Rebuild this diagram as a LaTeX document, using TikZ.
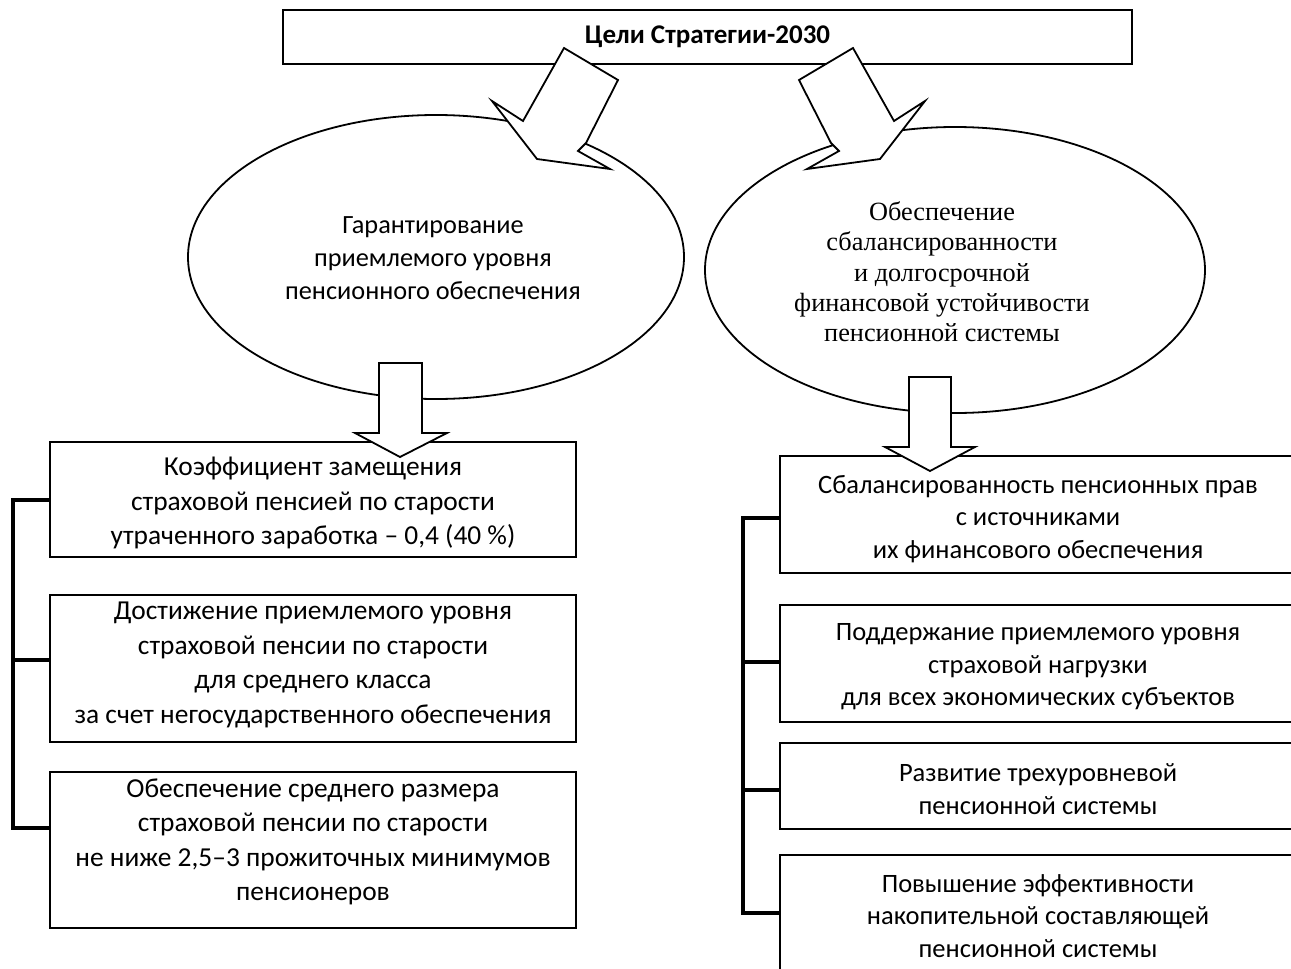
\documentclass[tikz,border=0pt]{standalone}
\usepackage{fontspec}
\newfontfamily\carl{Carlito}
\newfontfamily\tnr{Liberation Serif}
\usetikzlibrary{shapes.geometric}
\begin{document}
\begin{tikzpicture}[x=1pt,y=-1pt,
  box/.style={draw, line width=1.8pt, fill=white, inner sep=0pt},
  txt/.style={inner sep=0pt, align=center, font=\carl\fontsize{27.4}{34.5}\selectfont},
  rtxt/.style={inner sep=0pt, align=center, font=\carl\fontsize{26.5}{32.5}\selectfont},
  ell/.style={draw, ellipse, line width=1.8pt, inner sep=0pt},
  barrow/.style={draw, line width=1.8pt, fill=white, line join=miter},
  bracket/.style={draw, line width=4.5pt, line join=miter}]
\useasboundingbox (0,0) rectangle (1291,969);
\clip (0,0) rectangle (1291,969);
% top box
\node[box, line width=1.6pt, minimum width=849pt, minimum height=54pt] (top) at (707.5,37) {};
\node[inner sep=0pt, font=\carl\bfseries\fontsize{27}{30}\selectfont] (toptxt) at (top.center) {Цели Стратегии-2030};
% ellipses
\node[ell, minimum width=496pt, minimum height=284pt] (le) at (436,257) {};
\node[inner sep=0pt, align=center, font=\carl\fontsize{26.3}{32.8}\selectfont] (letxt) at (433,258) {Гарантирование\\приемлемого уровня\\пенсионного обеспечения};
\node[ell, minimum width=500pt, minimum height=286pt] (re) at (955,270) {};
\node[inner sep=0pt, align=center, font=\tnr\fontsize{26.3}{30.3}\selectfont] (retxt) at (942,272) {Обеспечение\\сбалансированности\\и долгосрочной\\финансовой устойчивости\\пенсионной системы};
% block arrows from top box
\draw[barrow] (564,48) -- (618,80) -- (586,143) -- (578,151) -- (610,169) -- (537,159) -- (492,101) -- (523,121) -- cycle;
\draw[barrow] (853,48) -- (799,80) -- (831,143) -- (839,151) -- (807,169) -- (880,159) -- (925,101) -- (894,121) -- cycle;
% left boxes
\node[box, minimum width=526pt, minimum height=115pt] (lb1) at (313,499.5) {};
\node[txt] (lt1) at (313,503) {Коэффициент замещения\\страховой пенсией по старости\\утраченного заработка – 0,4 (40 \%)};
\node[box, minimum width=526pt, minimum height=147pt] (lb2) at (313,668.5) {};
\node[txt] (lt2) at (313,665) {Достижение приемлемого уровня\\страховой пенсии по старости\\для среднего класса\\за счет негосударственного обеспечения};
\node[box, minimum width=526pt, minimum height=156pt] (lb3) at (313,850) {};
\node[txt] (lt3) at (313,842) {Обеспечение среднего размера\\страховой пенсии по старости\\не ниже 2,5–3 прожиточных минимумов\\пенсионеров};
% right boxes
\node[box, minimum width=530pt, minimum height=117pt] (rb1) at (1045,514.5) {};
\node[rtxt] (rt1) at (1038,519) {Сбалансированность пенсионных прав\\с источниками\\их финансового обеспечения};
\node[box, minimum width=530pt, minimum height=117pt] (rb2) at (1045,663.5) {};
\node[rtxt] (rt2) at (1038,667) {Поддержание приемлемого уровня\\страховой нагрузки\\для всех экономических субъектов};
\node[box, minimum width=530pt, minimum height=86pt] (rb3) at (1045,786) {};
\node[rtxt] (rt3) at (1038,789) {Развитие трехуровневой\\пенсионной системы};
\node[box, minimum width=530pt, minimum height=120pt] (rb4) at (1045,915) {};
\node[rtxt] (rt4) at (1038,916) {Повышение эффективности\\накопительной составляющей\\пенсионной системы};
% down arrows
\draw[barrow] (379,363) -- (422,363) -- (422,433) -- (447,433) -- (400,457) -- (355,433) -- (379,433) -- cycle;
\draw[barrow] (909,377) -- (951,377) -- (951,447) -- (975,447) -- (930,471) -- (885,447) -- (909,447) -- cycle;
% brackets
\coordinate (lbar1) at (13,500);
\coordinate (lbar2) at (13,660);
\coordinate (lbar3) at (13,828);
\draw[bracket] (lb1.west |- lbar1) -- (lbar1) -- (lbar3) -- (lb3.west |- lbar3);
\draw[bracket] (lbar2) -- (lb2.west |- lbar2);
\coordinate (rbar1) at (743,518);
\coordinate (rbar2) at (743,662);
\coordinate (rbar3) at (743,790);
\coordinate (rbar4) at (743,913);
\draw[bracket] (rb1.west |- rbar1) -- (rbar1) -- (rbar4) -- (rb4.west |- rbar4);
\draw[bracket] (rbar2) -- (rb2.west |- rbar2);
\draw[bracket] (rbar3) -- (rb3.west |- rbar3);
\end{tikzpicture}
\end{document}
